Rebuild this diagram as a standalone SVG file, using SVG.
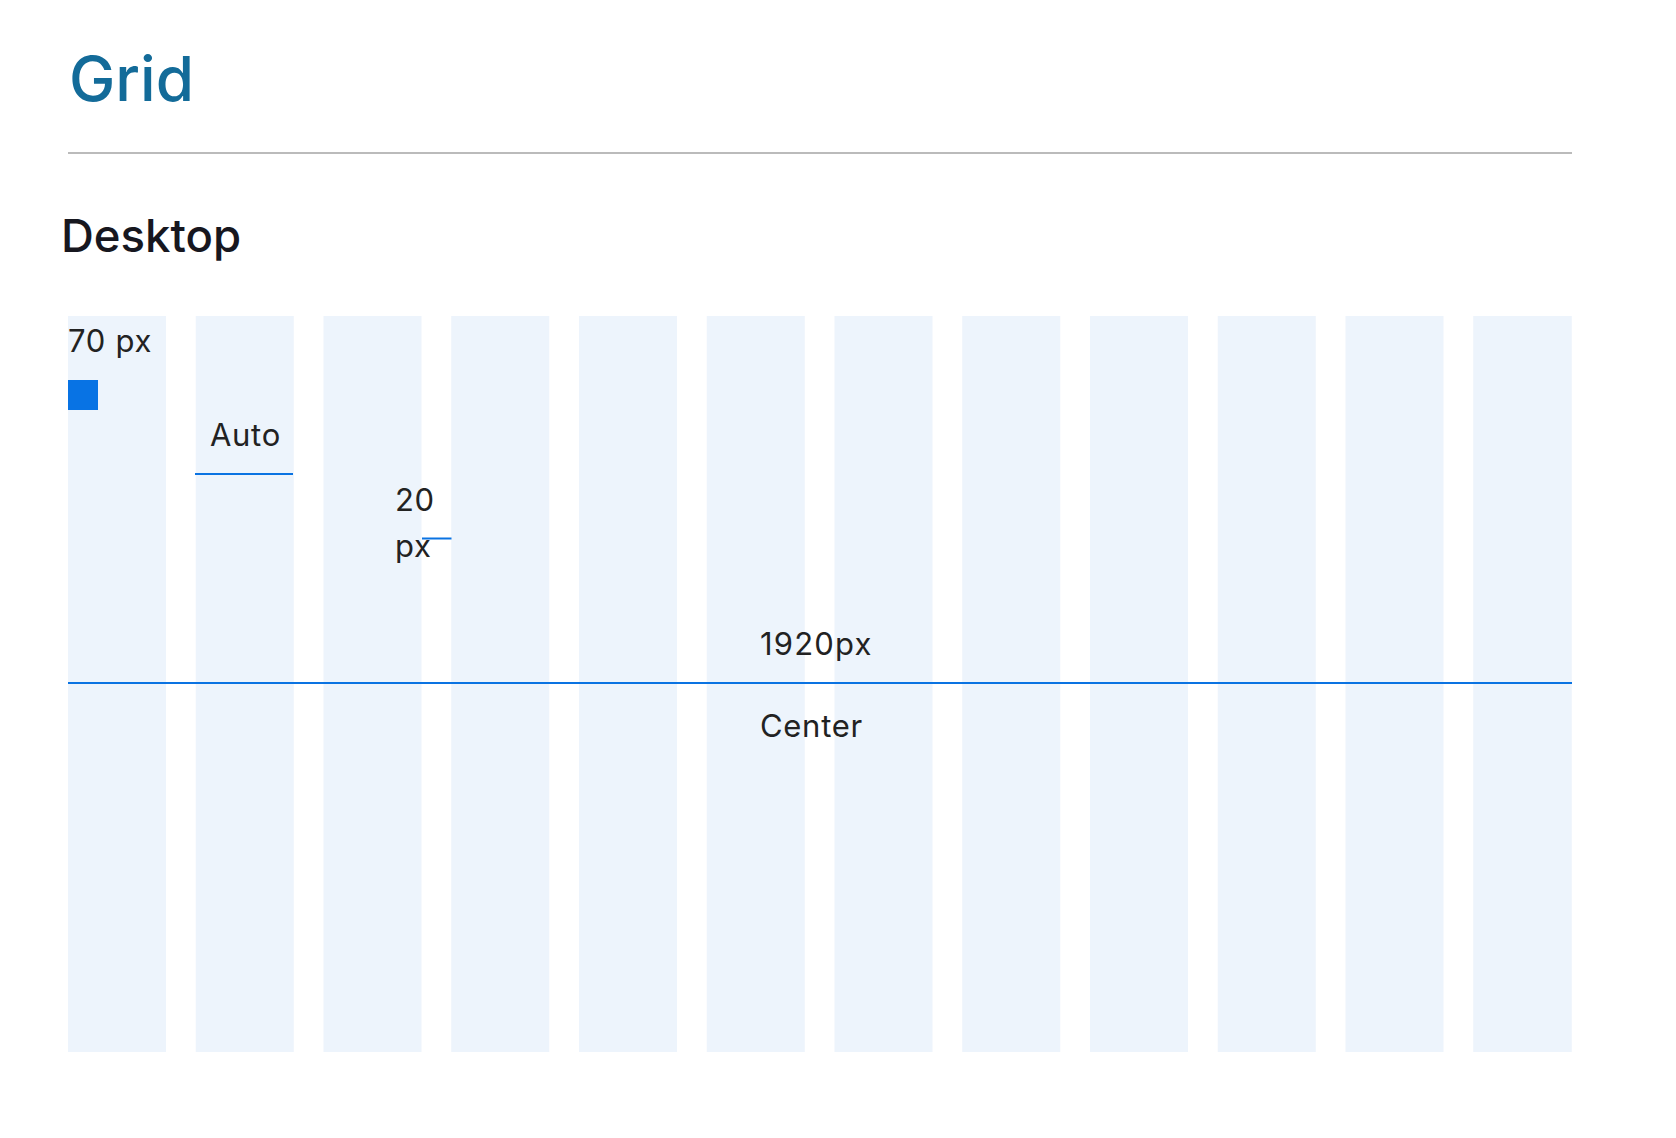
<svg xmlns="http://www.w3.org/2000/svg" width="1676" height="1138" viewBox="0 0 1676 1138">
<style>
.col{fill:#edf4fc}
.lbl{font-family:Inter,"Noto Sans","Liberation Sans",sans-serif;font-size:31px;fill:#222;letter-spacing:0.7px}
.blue{stroke:#0a73e2;stroke-width:2}
</style>
<rect width="1676" height="1138" fill="#fff"/>
<text x="69" y="101" font-family="Inter,'Noto Sans','Liberation Sans',sans-serif" font-size="62" font-weight="500" fill="#136b99">Grid</text>
<rect x="68" y="152" width="1504" height="2" fill="#bbbbbb"/>
<text x="61" y="252" font-family="Inter,'Noto Sans','Liberation Sans',sans-serif" font-size="45.5" font-weight="500" fill="#17171f">Desktop</text>
<g id="columns">
<rect class="col" x="68" y="316" width="98" height="736"/>
<rect class="col" x="195.75" y="316" width="98" height="736"/>
<rect class="col" x="323.5" y="316" width="98" height="736"/>
<rect class="col" x="451.25" y="316" width="98" height="736"/>
<rect class="col" x="579" y="316" width="98" height="736"/>
<rect class="col" x="706.75" y="316" width="98" height="736"/>
<rect class="col" x="834.5" y="316" width="98" height="736"/>
<rect class="col" x="962.25" y="316" width="98" height="736"/>
<rect class="col" x="1090" y="316" width="98" height="736"/>
<rect class="col" x="1217.75" y="316" width="98" height="736"/>
<rect class="col" x="1345.5" y="316" width="98" height="736"/>
<rect class="col" x="1473.25" y="316" width="98.5" height="736"/>
</g>
<g id="node-70px">
<text class="lbl" x="68" y="352">70 px</text>
<rect x="68" y="380" width="30" height="30" fill="#0873e4"/>
</g>
<g id="node-auto">
<text class="lbl" x="210" y="446">Auto</text>
</g>
<g id="node-20px">
<text class="lbl" x="395" y="511">20</text>
<text class="lbl" x="395" y="557">px</text>
</g>
<g id="node-1920">
<text class="lbl" x="760" y="655" style="letter-spacing:1.2px">1920px</text>
<text class="lbl" x="760" y="737">Center</text>
</g>
<g id="connectors">
<line class="blue" x1="195" y1="474" x2="293" y2="474"/>
<line class="blue" x1="422" y1="538.5" x2="451.5" y2="538.5"/>
<line class="blue" x1="68" y1="683" x2="1572" y2="683"/>
</g>
</svg>
